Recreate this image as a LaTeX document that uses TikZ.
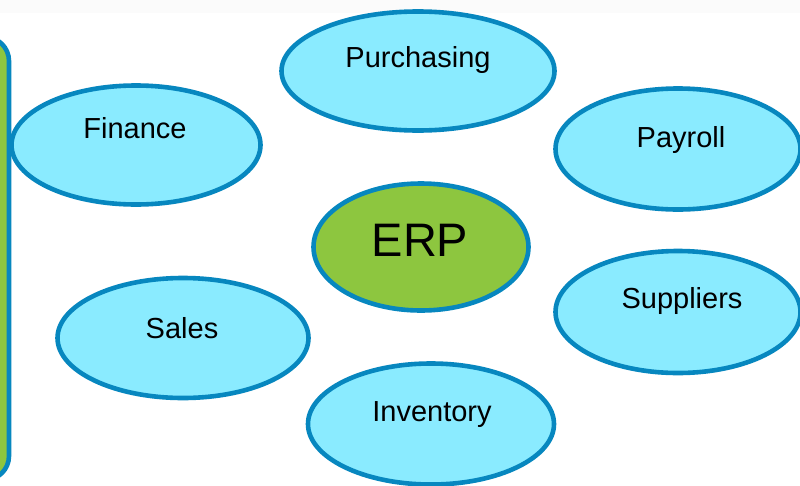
\documentclass[tikz,border=0pt]{standalone}
\usepackage{fontspec}
\setmainfont{Liberation Sans}
\usetikzlibrary{shapes.geometric}
\definecolor{bordblue}{HTML}{0787BF}
\definecolor{cyanfill}{HTML}{8AEBFF}
\definecolor{erpgreen}{HTML}{8DC63F}
\begin{document}
\begin{tikzpicture}[x=1pt,y=-1pt,
  blob/.style={ellipse,draw=bordblue,line width=4.6pt,fill=cyanfill,inner sep=0pt},
  lbl/.style={anchor=base,inner sep=0pt,font=\fontsize{29}{31}\selectfont},
  side/.style={draw=bordblue,line width=4.6pt,fill=erpgreen,rounded corners=24pt}]
\useasboundingbox (0,0) rectangle (800,485);
\fill[white] (0,0) rectangle (800,485);
\fill[black!1.5] (0,0) rectangle (800,13);
\draw[side] (-40,37) rectangle (9,480);
\node[blob,minimum width=273pt,minimum height=119pt] (pur) at (418,71) {};
\node[blob,minimum width=249pt,minimum height=119pt] (fin) at (136,145) {};
\node[blob,minimum width=245pt,minimum height=121pt] (pay) at (678,149) {};
\node[blob,fill=erpgreen,minimum width=215pt,minimum height=127pt] (erp) at (421,247) {};
\node[blob,minimum width=251pt,minimum height=120pt] (sal) at (183,338) {};
\node[blob,minimum width=245pt,minimum height=122pt] (sup) at (678,312) {};
\node[blob,minimum width=246pt,minimum height=121pt] (inv) at (431,424) {};
\node[lbl] (tpur) at (418,67) {Purchasing};
\node[lbl] (tfin) at (135,138) {Finance};
\node[lbl] (tpay) at (681,147) {Payroll};
\node[lbl,font=\fontsize{47}{49}\selectfont] (terp) at (420,256) {ERP};
\node[lbl] (tsal) at (182,338) {Sales};
\node[lbl] (tsup) at (682,308) {Suppliers};
\node[lbl] (tinv) at (432,421) {Inventory};
\end{tikzpicture}
\end{document}
